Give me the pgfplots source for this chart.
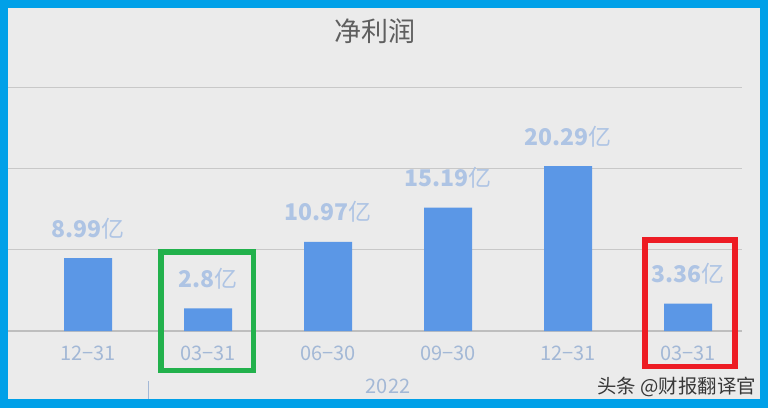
\documentclass[border=0pt]{standalone}
\usepackage{pgfplots}
\usepackage{pgfplotstable}
\pgfplotsset{compat=1.18}
\usepackage{fontspec}
\setmainfont{Noto Sans CJK SC}

\definecolor{framec}{RGB}{0,160,232}
\definecolor{bgc}{RGB}{235,235,235}
\definecolor{barc}{RGB}{91,151,230}
\definecolor{valc}{RGB}{174,196,228}
\definecolor{tickc}{RGB}{163,184,214}
\definecolor{gridc}{RGB}{200,200,200}
\definecolor{basec}{RGB}{190,190,190}
\definecolor{titlec}{RGB}{95,95,95}
\definecolor{boxgreen}{RGB}{34,177,76}
\definecolor{boxred}{RGB}{237,28,36}

\pgfplotstableread{
x y lab
0 8.99 8.99
1 2.8 2.8
2 10.97 10.97
3 15.19 15.19
4 20.29 20.29
5 3.36 3.36
}\profit

\begin{document}
\begin{tikzpicture}
% frame and background
\fill[framec] (0pt,0pt) rectangle (768pt,408pt);
\fill[bgc] (8pt,9pt) rectangle (760pt,400pt);
\node[text=titlec, font=\fontsize{27}{27}\selectfont] at (375pt,377pt) {净利润};

\begin{axis}[
  at={(8pt,77pt)}, anchor=south west,
  scale only axis,
  width=734pt, height=284.2pt,
  xmin=-0.6667, xmax=5.45,
  ymin=0, ymax=35,
  ybar,
  axis line style={draw=none},
  major tick length=0pt,
  ytick={10,20,30}, yticklabels={},
  ymajorgrids,
  grid style={gridc, line width=1.3pt},
  extra y ticks={0},
  extra y tick labels={},
  extra y tick style={grid style={basec, line width=2.2pt}},
  xtick={0,...,5},
  xticklabels={12−31,03−31,06−30,09−30,12−31,03−31},
  xticklabel style={font=\fontsize{20}{20}\selectfont, text=tickc, anchor=base, yshift=-29pt},
  clip=false,
]
\addplot[fill=barc, draw=none, bar width=48pt,
  point meta=explicit symbolic,
  nodes near coords={{\bfseries\pgfplotspointmeta}亿},
  every node near coord/.append style={font=\fontsize{23}{23}\selectfont, text=valc, anchor=base, yshift=21pt}]
  table[x=x, y=y, meta=lab] {\profit};

% year group label and separator
\node[text=tickc, font=\fontsize{20}{20}\selectfont, anchor=base] at (axis cs:2.5,0) [yshift=-62pt] {2022};
\draw[tickc, line width=1pt] (axis cs:0.5,0) ++(0pt,-50pt) -- ++(0pt,-18pt);

% highlight boxes
\draw[boxgreen, line width=5.5pt] (axis cs:1,0) ++(-47.25pt,-39.25pt) rectangle ++(92.5pt,118.5pt);
\draw[boxred, line width=5.5pt] (axis cs:5,0) ++(-43pt,-35.5pt) rectangle ++(90pt,126.5pt);
\end{axis}

% watermark
\node[anchor=base east, text=black!78, font=\fontsize{19.4}{19.4}\selectfont, inner sep=0pt] at (756pt,15pt) {头条 @财报翻译官};
\end{tikzpicture}
\end{document}
